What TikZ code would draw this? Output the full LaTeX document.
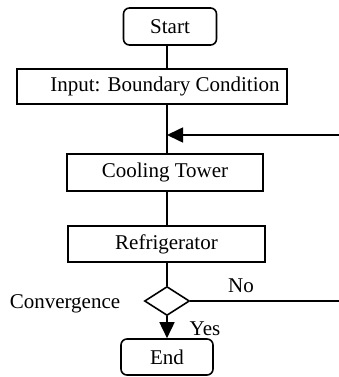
\documentclass[tikz,border=0pt]{standalone}
\usepackage{fontspec}
\setmainfont{Liberation Serif}
\usetikzlibrary{shapes.geometric,arrows.meta}
\begin{document}
\begin{tikzpicture}[x=1pt,y=-1pt,
  line width=1.6pt,
  font=\fontsize{21}{25}\selectfont,
  procbox/.style={draw,rectangle,inner sep=0pt},
  termbox/.style={draw,rectangle,rounded corners=6pt,inner sep=0pt},
  decbox/.style={draw,diamond,inner sep=0pt,minimum width=45pt,minimum height=29pt},
  flow/.style={-{Triangle[length=16pt,width=15pt]}},
  lbl/.style={inner sep=0pt}]
\useasboundingbox (0,0) rectangle (339,377);
\coordinate (spine) at (167,0);
% process chain
\node[termbox,minimum width=93pt,minimum height=37pt] (start) at (170,26.5) {Start};
\node[procbox,minimum width=270pt,minimum height=35pt] (input) at (152,86.5) {};
\node[lbl] (inputtxt) at (165,86.5) {Input: Boundary Condition};
\node[procbox,minimum width=196pt,minimum height=37pt] (cool) at (165,172.5) {Cooling Tower};
\node[procbox,minimum width=197pt,minimum height=36pt] (fridge) at (166.5,244) {Refrigerator};
\node[decbox] (conv) at (167,301) {};
\node[termbox,minimum width=92pt,minimum height=36pt] (end) at (167,357) {End};
% labels
\node[lbl] (convlbl) at (65,304) {Convergence};
\node[lbl] (nolbl) at (241,286) {No};
\node[lbl] (yeslbl) at (205,329) {Yes};
% feedback ends
\coordinate (fbin) at (339,135);
\coordinate (fbout) at (339,301);
% connectors
\draw (start.south -| spine) -- (input.north -| spine);
\draw (input.south -| spine) -- (cool.north -| spine);
\draw (cool.south -| spine) -- (fridge.north -| spine);
\draw (fridge.south -| spine) -- (conv.north);
\draw[flow] (conv.south) -- (end.north);
\draw[flow] (fbin) -- (fbin -| spine);
\draw (conv.east) -- (fbout);
\end{tikzpicture}
\end{document}
